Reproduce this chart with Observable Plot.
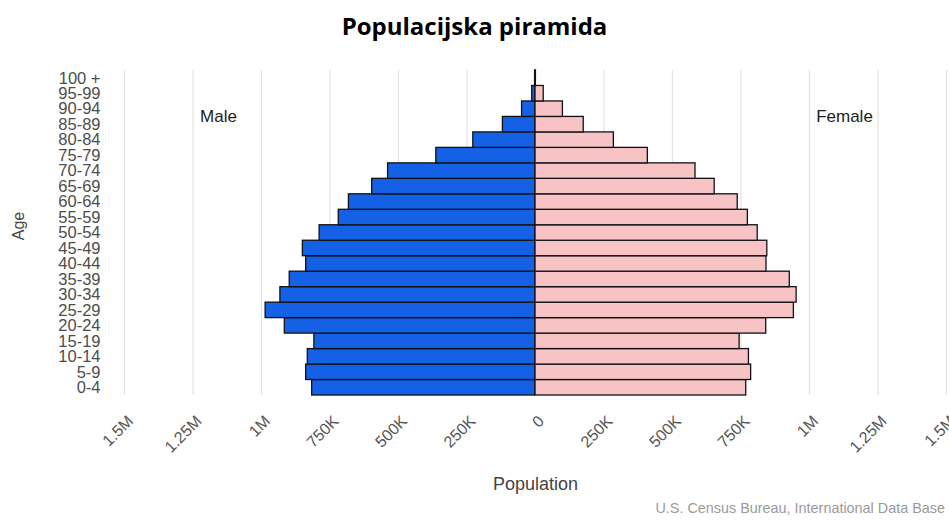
<!DOCTYPE html>
<html>
<head>
<meta charset="utf-8">
<script src="https://cdn.jsdelivr.net/npm/d3@7"></script>
<script src="https://cdn.jsdelivr.net/npm/@observablehq/plot@0.6"></script>
<style>
  html, body { margin: 0; padding: 0; background: #fff; }
  #wrap { width: 949px; }
  #title { height: 50px; box-sizing: border-box; padding-top: 14px; text-align: center;
           font-family: "Open Sans", sans-serif; font-weight: 700; font-size: 24px; line-height: 24px; color: #000; }
  #chart svg { display: block; }
  #caption { text-align: right; padding-right: 4px; font-family: "Liberation Sans", Arial, sans-serif;
             font-size: 14.4px; color: #9a9a9a; line-height: 16px; }
</style>
</head>
<body>
<div id="wrap">
  <div id="title">Populacijska piramida</div>
  <div id="chart"></div>
  <div id="caption">U.S. Census Bureau, International Data Base</div>
</div>
<script>
// Age groups (bottom to top)
const ages = ["0-4","5-9","10-14","15-19","20-24","25-29","30-34","35-39","40-44","45-49","50-54","55-59","60-64","65-69","70-74","75-79","80-84","85-89","90-94","95-99","100 +"];
// Population in thousands
const male   = [815, 837, 831, 807, 915, 985, 931, 897, 837, 849, 788, 718, 681, 596, 538, 362, 227, 119, 49, 12, 1.5];
const female = [769, 787, 779, 745, 842, 943, 953, 928, 843, 846, 811, 775, 738, 654, 584, 410, 286, 176, 100, 30, 1.5];
const xTicks = [-1500000, -1250000, -1000000, -750000, -500000, -250000, 0, 250000, 500000, 750000, 1000000, 1250000, 1500000];
const sexLabels = ["Male", "Female"];

const rows = [];
ages.forEach((a, i) => {
  rows.push({age: a, sex: "Male", value: -male[i] * 1000});
  rows.push({age: a, sex: "Female", value: female[i] * 1000});
});

function fmt(v) {
  const a = Math.abs(v);
  if (a === 0) return "0";
  if (a >= 1e6) return (a / 1e6) + "M";
  return (a / 1e3) + "K";
}

const font = '"Liberation Sans", Arial, sans-serif';

const chart = Plot.plot({
  width: 949,
  height: 450,
  marginTop: 20,
  marginBottom: 105,
  marginLeft: 124,
  marginRight: 3,
  style: {fontFamily: font, fontSize: "14px", background: "#fff"},
  x: {domain: [-1500000, 1500000]},
  y: {domain: ages.slice().reverse(), padding: 0, round: false},
  color: {domain: ["Male", "Female"], range: ["#1461e6", "#f7c3c4"]},
  marks: [
    Plot.gridX(xTicks, {stroke: "#e3e3e3", strokeOpacity: 1, strokeWidth: 1.2}),
    Plot.barX(rows, {x1: 0, x2: "value", y: "age", fill: "sex", stroke: "#111", strokeWidth: 1.3}),
    Plot.axisX({ticks: xTicks, tickFormat: fmt, tickRotate: -45, tickSize: 0, tickPadding: 16,
                dx: 6, dy: 7, fontSize: 16, fill: "#555", label: null}),
    Plot.axisY({tickSize: 0, tickPadding: 24, fontSize: 16.5, fill: "#4d4d4d", label: null}),
    Plot.text(["Population"], {text: d => d, frameAnchor: "bottom", lineAnchor: "middle", dy: 89, fontSize: 18, fill: "#444"}),
    Plot.text(["Age"], {text: d => d, frameAnchor: "left", textAnchor: "middle", lineAnchor: "middle", dx: -106, dy: -7, rotate: -90, fontSize: 16, fill: "#444"}),
    Plot.text([sexLabels[0]], {text: d => d, frameAnchor: "top-left", lineAnchor: "middle", dx: 94, dy: 46, fontSize: 17, fill: "#222", textAnchor: "middle"}),
    Plot.text([sexLabels[1]], {text: d => d, frameAnchor: "top-right", lineAnchor: "middle", dx: -102, dy: 46, fontSize: 17, fill: "#222", textAnchor: "middle"})
  ]
});
document.getElementById("chart").appendChild(chart);
</script>
</body>
</html>
